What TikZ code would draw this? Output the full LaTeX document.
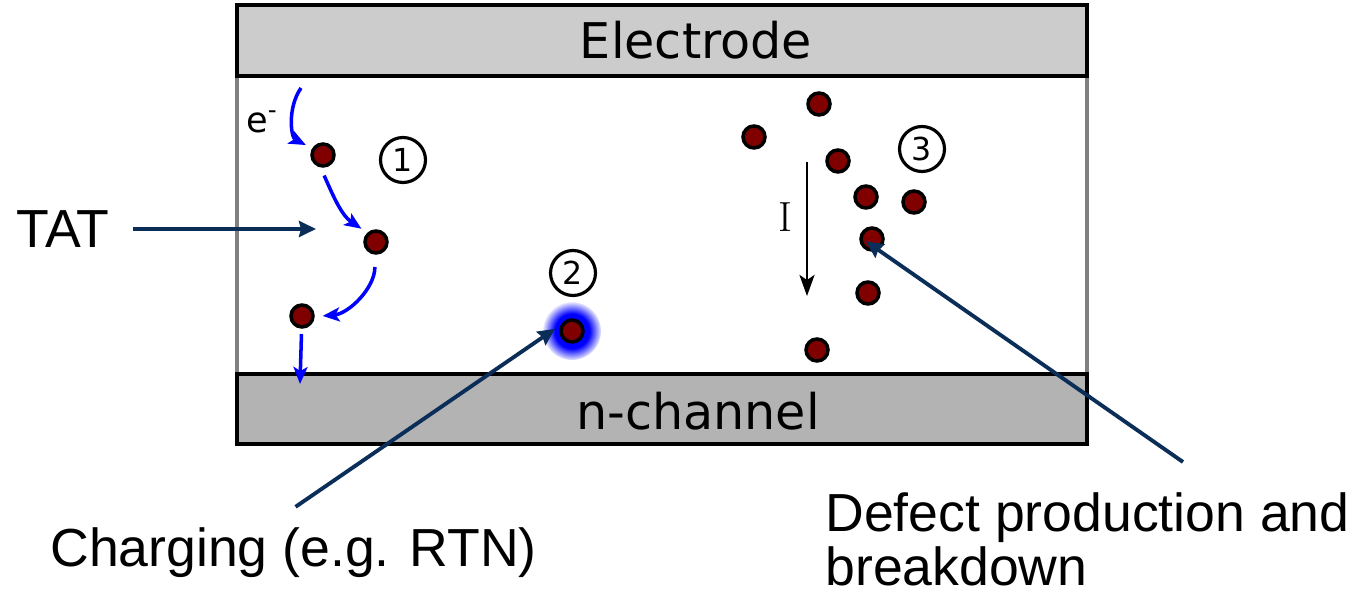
\documentclass[tikz,border=0pt]{standalone}
\usepackage{fontspec}
\newfontfamily\arial{Liberation Sans}
\newfontfamily\dejavu{DejaVu Sans}
\usetikzlibrary{arrows.meta,calc}
\definecolor{trapred}{HTML}{800000}
\definecolor{hopblue}{HTML}{0000FF}
\definecolor{pointnavy}{HTML}{0B2E59}
\definecolor{electrodegray}{HTML}{CCCCCC}
\definecolor{channelgray}{HTML}{B3B3B3}
\definecolor{sidegray}{HTML}{808080}
\pgfdeclareradialshading{chargeglow}{\pgfpoint{0bp}{0bp}}{color(0bp)=(hopblue); color(15bp)=(hopblue); color(26bp)=(white); color(50bp)=(white)}

\begin{document}
\begin{tikzpicture}[x=0.02cm, y=0.02cm,
    trap/.style={circle, draw=black, line width=2pt, fill=trapred, minimum size=0.44cm, inner sep=0pt},
    marker/.style={circle, draw=black, line width=1.8pt, minimum size=0.9cm, inner sep=0pt, font=\dejavu\fontsize{18}{20}\selectfont},
    hop/.style={hopblue, line width=2pt, -{Stealth[length=0.34cm, width=0.28cm, inset=0.08cm]}},
    pointer/.style={pointnavy, line width=2.2pt, -{Stealth[length=0.34cm, width=0.32cm, inset=0.04cm]}},
    caption/.style={inner sep=0pt, font=\arial\fontsize{30.5}{31}\selectfont},
    layer/.style={inner sep=0pt, font=\dejavu\fontsize{28}{34}\selectfont}]
    \useasboundingbox (0,0) rectangle (1355,-597);
    \fill[electrodegray] (237,-5) rectangle (1087,-76);
    \fill[channelgray] (237,-374) rectangle (1087,-444);
    \draw[sidegray, line width=2pt] (237,-76) -- (237,-374) (1087,-76) -- (1087,-374);
    \draw[line width=2.4pt] (237,-5) rectangle (1087,-76);
    \draw[line width=2.4pt] (237,-374) rectangle (1087,-444);
    \node[layer] (electrode) at (696,-40) {Electrode};
    \node[layer] (channel) at (698,-411) {n-channel};

    \node[trap] (t1) at (323,-155) {};
    \node[trap] (t2) at (376,-242) {};
    \node[trap] (t3) at (302,-316) {};
    \shade[shading=chargeglow] (572,-331) circle (29);
    \node[trap] (t4) at (572,-331) {};
    \foreach \x/\y [count=\i] in {819/104, 754/137, 838/161, 866/197, 914/202, 872/239, 868/293, 817/350}
      \node[trap] (p\i) at (\x,-\y) {};

    \node[marker] (m1) at (403,-160) {1};
    \node[marker] (m2) at (573,-273) {2};
    \node[marker] (m3) at (922,-149) {3};

    \node[inner sep=0pt, font=\dejavu\fontsize{20}{22}\selectfont] (elec) at (262,-122) {e\textsuperscript{-}};
    \coordinate (inject) at (301,-88);
    \coordinate (exit) at (300,-384);
    \draw[hop, shorten >=4pt] (inject) to[out=235, in=153] (t1.148);
    \draw[hop, shorten <=5pt, shorten >=4pt] (t1.259) to[out=-66, in=146] (t2.133);
    \draw[hop, shorten <=7pt, shorten >=4.5pt] (t2.265) to[out=-90, in=5] (t3.-3);
    \draw[hop, shorten <=3pt] (t3) -- (exit);

    \coordinate (iTop) at (807,-162);
    \coordinate (iBot) at (807,-296);
    \draw[line width=1.6pt, -{Stealth[length=0.42cm, width=0.3cm, inset=0.1cm]}] (iTop) -- (iBot);
    \node[inner sep=0pt, font=\fontsize{24}{26}\selectfont] (current) at (785,-217) {I};

    \node[caption] (tat) at (63,-229) {TAT};
    \coordinate (tatTip) at (316,-229);
    \draw[pointer, shorten <=13pt] (tat.east) -- (tatTip);

    \node[caption, anchor=base west] (charging) at (50,-566) {Charging (e.g. RTN)};
    \draw[pointer, shorten >=4pt] ($(charging.north)+(2,20)$) -- (t4.151);

    \node[caption, anchor=north west, align=left] (defect) at (825,-492) {Defect production and\\breakdown};
    \coordinate (defectFoot) at (1183,-462);
    \draw[pointer, shorten >=4.5pt] (defectFoot) -- (p6.170);
\end{tikzpicture}
\end{document}
